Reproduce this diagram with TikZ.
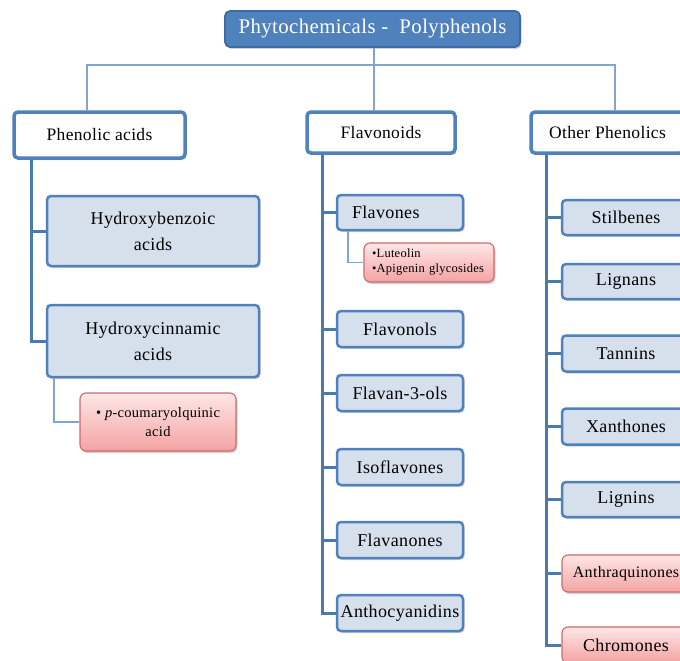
\documentclass[tikz,border=0pt]{standalone}
\usepackage{fontspec}
\setmainfont{Liberation Serif}[LetterSpace=2]
\usetikzlibrary{shadows}
\definecolor{cblue}{HTML}{4F81BD}
\definecolor{cbluedark}{HTML}{3D6AA3}
\definecolor{cspine}{HTML}{4A78B0}
\definecolor{clight}{HTML}{7FA5D5}
\definecolor{cfill}{HTML}{D6DFEC}
\definecolor{credtop}{HTML}{FFE6E6}
\definecolor{credbot}{HTML}{F3A3A3}
\definecolor{credline}{HTML}{CC6A68}
\begin{document}
\begin{tikzpicture}[x=1pt,y=-1pt,
  shad/.style={drop shadow={opacity=0.3, shadow xshift=1.5pt, shadow yshift=-2pt, fill=black!60}},
  topbox/.style={shad, rounded corners=5pt, inner sep=0pt, align=center, fill=cblue, draw=cbluedark, line width=1.8pt, text=white, font=\fontsize{20.8}{24}\selectfont},
  catbox/.style={shad, rounded corners=4pt, inner sep=0pt, align=center, fill=white, draw=cblue, line width=3.5pt, font=\fontsize{17.5}{21}\selectfont},
  subbox/.style={shad, rounded corners=4pt, inner sep=0pt, align=center, fill=cfill, draw=cblue, line width=2.5pt, font=\fontsize{18}{26}\selectfont},
  redbox/.style={shad, rounded corners=6pt, inner sep=0pt, align=center, top color=credtop, bottom color=credbot, draw=credline, line width=1.1pt},
  spine/.style={draw=cspine, line width=3pt, line join=miter},
  topconn/.style={draw=clight, line width=1.6pt},
  subconn/.style={draw=clight, line width=1.4pt}]
\useasboundingbox (0,0) rectangle (680,661);
\clip (0,0) rectangle (680,661);

% title
\node[topbox, minimum width=295pt, minimum height=36pt] (top) at (372.5,29) {Phytochemicals -\ \ Polyphenols};

% categories
\node[catbox, minimum width=171pt, minimum height=46pt] (pa) at (99.5,135) {Phenolic acids};
\node[catbox, minimum width=148pt, minimum height=41pt] (fl) at (381,132.5) {Flavonoids};
\node[catbox, minimum width=153pt, minimum height=41pt] (op) at (607.5,132.5) {Other Phenolics};

% left column
\node[subbox, minimum width=212pt, minimum height=70pt] (hb) at (153,231) {Hydroxybenzoic\\acids};
\node[subbox, minimum width=212pt, minimum height=72pt] (hc) at (153,341) {Hydroxycinnamic\\acids};
\node[redbox, minimum width=156pt, minimum height=58pt, font=\fontsize{14.5}{19}\selectfont] (pc) at (158,422) {\textbullet\ \textit{p}-coumaryolquinic\\acid};

% middle column
\node[subbox, minimum width=126pt, minimum height=35pt, text width=96pt, align=left] (fv) at (400,212.5) {Flavones};
\node[redbox, minimum width=130pt, minimum height=39pt, text width=114pt, align=left, font=\fontsize{12.5}{15}\selectfont] (lu) at (429,262.5) {\textbullet Luteolin\\\textbullet Apigenin glycosides};
\node[subbox, minimum width=126pt, minimum height=36pt] (fo) at (400,329) {Flavonols};
\node[subbox, minimum width=126pt, minimum height=36pt] (f3) at (400,393) {Flavan-3-ols};
\node[subbox, minimum width=126pt, minimum height=36pt] (is) at (400,467) {Isoflavones};
\node[subbox, minimum width=126pt, minimum height=36pt] (fn) at (400,540) {Flavanones};
\node[subbox, minimum width=126pt, minimum height=36pt] (an) at (400,613) {Anthocyanidins};

% right column
\node[subbox, minimum width=128pt, minimum height=35pt] (st) at (626,217.5) {Stilbenes};
\node[subbox, minimum width=128pt, minimum height=35pt] (lg) at (626,281.5) {Lignans};
\node[subbox, minimum width=128pt, minimum height=36pt] (ta) at (626,353.5) {Tannins};
\node[subbox, minimum width=128pt, minimum height=36pt] (xa) at (626,426.5) {Xanthones};
\node[subbox, minimum width=128pt, minimum height=35pt] (li) at (626,499.5) {Lignins};
\node[redbox, minimum width=128pt, minimum height=37pt, font=\fontsize{16}{19}\selectfont] (aq) at (626,573.5) {Anthraquinones};
\node[redbox, minimum width=128pt, minimum height=36pt, font=\fontsize{18}{20}\selectfont] (ch) at (626,645) {Chromones};

% top connectors
\draw[topconn] (pa.north -| 87,0) -- (87,65) -- (615,65) -- (op.north -| 615,0);
\draw[topconn] (top.south -| 374,0) -- (fl.north -| 374,0);

% spines
\draw[spine] (pa.south -| 31,0) |- (hb.west);
\draw[spine] (pa.south -| 31,0) |- (hc.west);
\foreach \n in {fv,fo,f3,is,fn,an} \draw[spine] (fl.south -| 322.5,0) |- (\n.west);
\foreach \n in {st,lg,ta,xa,li,aq,ch} \draw[spine] (op.south -| 546,0) |- (\n.west);

% sub connectors
\draw[subconn] (hc.south -| 54,0) |- (pc.west);
\draw[subconn] (fv.south -| 348,0) |- (lu.west);
\end{tikzpicture}
\end{document}
